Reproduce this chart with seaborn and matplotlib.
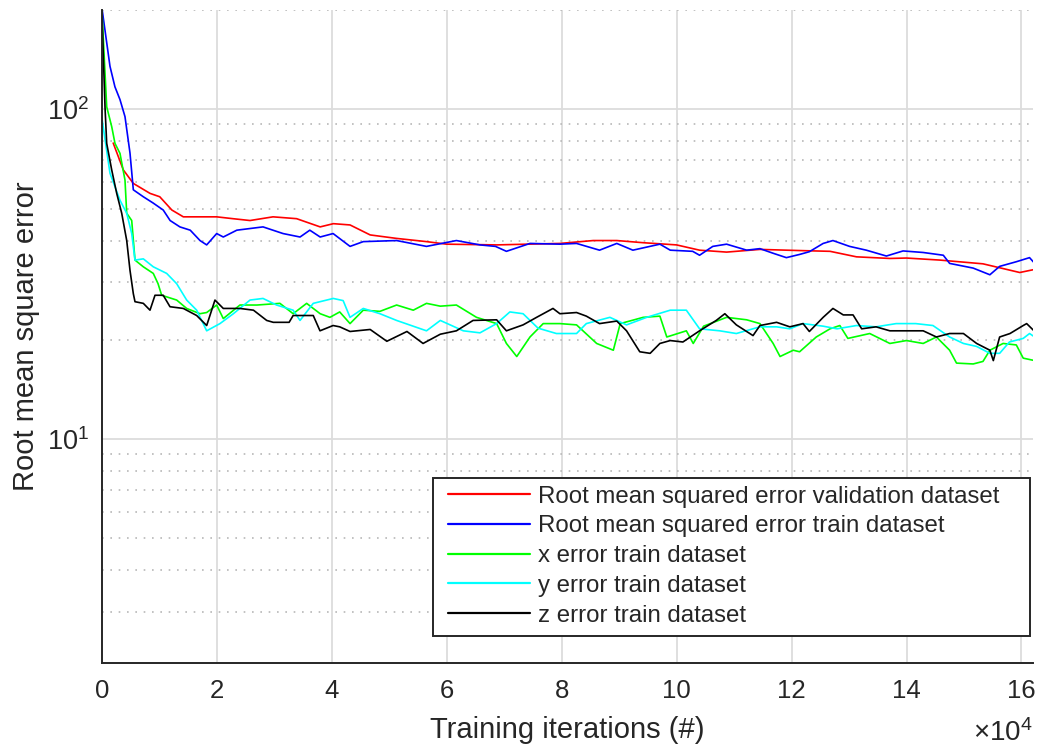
import numpy as np
import pandas as pd
import matplotlib
matplotlib.use("Agg")
import matplotlib.pyplot as plt
import matplotlib.patches as mpatches
import seaborn as sns
from matplotlib.ticker import FixedLocator, FuncFormatter, LogLocator, NullFormatter

# ---------------- data ----------------
series_names = [
    "Root mean squared error validation dataset",
    "Root mean squared error train dataset",
    "x error train dataset",
    "y error train dataset",
    "z error train dataset",
]
series_colors = ["#ff0000", "#0000ff", "#00ff00", "#00ffff", "#000000"]

red_it = [2000, 3760, 5500, 8400, 10100, 12200, 14200, 20000, 22800, 25800, 29800,
          33900, 38000, 40300, 43200, 46700, 51300, 56500, 60000, 68700, 74000, 79700,
          85500, 89600, 94200, 100000, 104000, 108700, 114500, 121400, 126700, 131300,
          137100, 140000, 145800, 153300, 159700, 162300]
red_v = [79, 65.5, 59.6, 55.6, 54.3, 49.5, 47.2, 47.2, 46.6, 46.0, 47.2,
         46.6, 44.0, 45.0, 44.6, 41.6, 40.6, 39.7, 39.0, 38.8, 39.0, 39.2,
         40.0, 40.0, 39.4, 38.8, 37.4, 36.9, 37.6, 37.3, 37.1, 35.7,
         35.3, 35.4, 34.9, 34.0, 32.0, 32.7]

blue_it = [0, 1440, 2300, 3180, 4050, 4920, 5500, 7240, 8930, 10700, 11900, 13600,
           15400, 17100, 18260, 20000, 21150, 23500, 28060, 31550, 34500, 36200, 38000,
           40250, 43200, 45500, 51300, 56500, 61700, 65800, 68500, 70400, 74500, 79700,
           82600, 86600, 89600, 92400, 97100, 98900, 102800, 104000, 106300, 108700,
           112200, 114500, 116800, 119100, 121400, 123100, 125500, 127200, 130100,
           133000, 136500, 139400, 142900, 146400, 147500, 151600, 154500, 156200,
           159100, 161400, 162300]
blue_v = [205, 135, 117, 107, 95, 73.7, 57, 54.3, 52, 49.5, 46, 44,
          43, 40, 38.8, 42, 41, 43, 44, 42, 41, 43, 41,
          42, 38.4, 39.7, 40, 38.4, 40, 38.8, 38.4, 37.1, 39.2, 39.0,
          39.2, 37.4, 39.2, 37.4, 39.0, 37.4, 37.1, 36.1, 38.4, 39.0,
          37.4, 37.8, 36.6, 35.5, 36.3, 37.0, 39.2, 40.0, 38.4,
          37.4, 35.9, 37.2, 36.8, 36.1, 34.1, 33.0, 31.5, 33.4,
          34.5, 35.5, 34.1]

green_it = [0, 870, 1740, 2310, 3180, 4050, 4350, 5220, 5790, 7240, 8970, 9800, 10430,
            13040, 14780, 17100, 18260, 20000, 21150, 24050, 27000, 31000, 33300, 35650,
            38000, 39700, 41400, 43200, 45500, 48400, 51300, 54200, 56500, 58900, 61700,
            65200, 68700, 70400, 72200, 74500, 76800, 79700, 82600, 86100, 89000, 90200,
            94200, 97100, 98300, 101700, 102900, 104700, 108700, 112200, 114500, 116800,
            118000, 120300, 121400, 124300, 126700, 128400, 129800, 133600, 137100,
            140000, 142900, 145200, 147500, 148700, 151600, 153300, 154500, 156800,
            159100, 160300, 162300]
green_v = [205, 101.8, 88.6, 78.8, 73.5, 61, 48.4, 46, 34.9, 33.3, 31.8, 29.6, 27.3,
           26.4, 24.9, 24.0, 24.2, 25.5, 23.2, 25.5, 25.5, 25.8, 24.0, 25.8,
           24.0, 23.4, 24.3, 22.4, 24.6, 24.4, 25.5, 24.6, 25.8, 25.3, 25.5,
           23.4, 22.4, 19.5, 17.8, 20.4, 22.4, 22.4, 22.2, 19.5, 18.6, 22.4,
           23.4, 23.6, 20.4, 21.3, 19.5, 22.0, 23.4, 23.0, 22.4, 19.5,
           17.8, 18.6, 18.4, 20.4, 21.6, 22.1, 20.2, 20.9, 19.5,
           19.9, 19.5, 20.4, 18.6, 17.0, 16.9, 17.2, 18.6, 19.5,
           19.3, 17.6, 17.3]

cyan_it = [0, 1440, 2310, 3180, 4350, 5220, 5790, 7240, 8970, 11300, 13040, 14780,
           16520, 18260, 20570, 22900, 25800, 28060, 30430, 33300, 34500, 36800, 40280,
           42000, 43200, 45500, 48400, 51300, 56500, 58900, 62900, 65800, 68700, 71000,
           73300, 75900, 79100, 82600, 84300, 88400, 91300, 94800, 98900, 101700, 104000,
           107500, 110400, 114500, 117400, 119700, 122000, 125500, 127900, 131300,
           134700, 138200, 141600, 144600, 147500, 149900, 152200, 154500, 156200,
           157900, 160300, 161400, 162300]
cyan_v = [95, 64, 58.2, 53, 48.4, 42, 34.9, 35.2, 33.3, 31.8, 29.6, 26.4,
          24.6, 21.3, 22.4, 24.0, 26.4, 26.7, 25.5, 24.6, 22.9, 25.8, 26.7,
          26.3, 23.4, 24.9, 24.0, 22.9, 21.3, 22.9, 21.3, 21.0, 22.4, 24.3,
          24.0, 21.7, 20.9, 20.9, 22.4, 23.4, 22.2, 23.4, 24.6, 24.6, 21.6,
          21.3, 20.9, 21.9, 21.9, 21.6, 22.4, 22.0, 21.6, 22.1,
          21.9, 22.4, 22.4, 22.1, 20.4, 19.5, 19.1, 18.2, 18.2,
          19.7, 20.2, 20.9, 20.4]

black_it = [0, 580, 870, 1740, 2610, 3480, 4350, 4920, 5500, 5790, 7240, 8400, 9270,
            10700, 11880, 14200, 16520, 18260, 19700, 21150, 24050, 26400, 28700, 29850,
            32600, 33300, 36800, 37970, 40250, 41400, 43200, 46700, 49600, 53100, 55900,
            58900, 61700, 64600, 68700, 70400, 73300, 75650, 78500, 79700, 82600, 84300,
            86600, 89600, 91300, 93600, 95400, 97100, 98900, 101100, 104000, 106900,
            108400, 110400, 113300, 114500, 117400, 119700, 122000, 123100, 125500,
            127200, 129000, 130700, 132200, 134700, 137100, 142900, 145200, 147500,
            149900, 152200, 154500, 155100, 156200, 158000, 160300, 160900, 162300]
black_v = [205, 101, 78.8, 65.5, 55.6, 48.4, 40, 32.5, 27.6, 26.1, 25.8, 24.6, 27.3,
           27.3, 25.2, 24.9, 23.7, 22.1, 26.4, 24.9, 24.9, 24.6, 22.9, 22.6,
           22.6, 23.7, 23.7, 21.3, 22.1, 21.9, 21.2, 21.5, 19.8, 21.2, 19.5,
           20.8, 21.3, 22.9, 23.0, 21.3, 22.2, 23.4, 24.9, 24.0, 24.2, 23.6,
           22.4, 22.8, 21.3, 18.4, 18.2, 19.5, 19.9, 19.7, 21.3, 22.9,
           24.0, 22.2, 20.6, 22.1, 22.6, 21.9, 22.4, 21.2, 23.4,
           24.9, 23.8, 23.8, 21.6, 21.9, 21.3, 21.3, 20.4, 20.9,
           20.9, 19.5, 18.6, 17.3, 20.4, 20.9, 22.1, 22.4, 21.2]

x_ticks = [0, 20000, 40000, 60000, 80000, 100000, 120000, 140000, 160000]
x_tick_labels = ["0", "2", "4", "6", "8", "10", "12", "14", "16"]

# ---------------- build long-form table ----------------
all_it = [red_it, blue_it, green_it, cyan_it, black_it]
all_v = [red_v, blue_v, green_v, cyan_v, black_v]
frames = []
for name, its, vs in zip(series_names, all_it, all_v):
    frames.append(pd.DataFrame({"it": its, "rmse": vs, "series": name}))
df = pd.concat(frames, ignore_index=True)

# ---------------- style ----------------
sns.set_theme(style="white")
plt.rcParams["font.family"] = ["Liberation Sans", "DejaVu Sans"]
plt.rcParams["mathtext.fontset"] = "custom"
plt.rcParams["mathtext.rm"] = "Liberation Sans"
plt.rcParams["mathtext.it"] = "Liberation Sans"
plt.rcParams["mathtext.bf"] = "Liberation Sans"
txt_color = "#262626"

fig = plt.figure(figsize=(10.41, 7.47), dpi=100)
ax = fig.add_axes([0.0977, 0.1129, 0.9923 - 0.0977, 0.9866 - 0.1129])

sns.lineplot(data=df, x="it", y="rmse", hue="series", hue_order=series_names,
             palette=series_colors, estimator=None, linewidth=1.2, ax=ax,
             legend=True)

ax.set_yscale("log")
ax.set_ylim(2.1, 200)
ax.set_xlim(0, 162000)

# grid
ax.set_axisbelow(True)
ax.yaxis.set_minor_locator(LogLocator(base=10, subs=np.arange(2, 10)))
ax.yaxis.set_minor_formatter(NullFormatter())
ax.grid(True, which="major", axis="both", color="#dcdcdc", linewidth=1.3, linestyle="-")
ax.grid(True, which="minor", axis="y", color="#b8b8b8", linewidth=1.2, linestyle=(0, (1, 4)))

ax.xaxis.set_major_locator(FixedLocator(x_ticks))
ax.xaxis.set_major_formatter(FuncFormatter(
    lambda v, p: x_tick_labels[x_ticks.index(int(round(v)))] if int(round(v)) in x_ticks else ""))

for side in ["top", "right"]:
    ax.spines[side].set_visible(False)
for side in ["left", "bottom"]:
    ax.spines[side].set_color(txt_color)
    ax.spines[side].set_linewidth(1.4)

ax.tick_params(axis="both", which="major", direction="in", length=7, width=1.2,
               colors=txt_color, labelcolor=txt_color)
ax.tick_params(axis="x", which="major", pad=12, labelsize=18.5)
ax.tick_params(axis="y", which="major", pad=9, labelsize=19.5)
ax.tick_params(axis="y", which="minor", direction="in", length=5, width=1.2, colors=txt_color)

ax.set_xlabel("Training iterations (#)", fontsize=21, color=txt_color, labelpad=9)
ax.set_ylabel("Root mean square error", fontsize=21, color=txt_color, labelpad=5)

ax.text(1.0, -0.108, r"$\times10^{4}$", transform=ax.transAxes, ha="right", va="center",
        fontsize=20, color=txt_color)

# legend (frame drawn as a rectangle to mimic the wide MATLAB box)
frame = mpatches.Rectangle((0.3557, 0.0409), 0.6411, 0.2421, transform=ax.transAxes,
                           facecolor="white", edgecolor=txt_color, linewidth=1.4,
                           zorder=4.5)
ax.add_patch(frame)
handles, labels = ax.get_legend_handles_labels()
leg = ax.legend(handles, labels, loc="upper left", bbox_to_anchor=(0.372, 0.271),
                fontsize=17.3, frameon=False,
                handlelength=3.4, handletextpad=0.35, labelspacing=0.32,
                borderpad=0.0, borderaxespad=0.0)
leg.set_zorder(5)
for t in leg.get_texts():
    t.set_color(txt_color)
for l in leg.get_lines():
    l.set_linewidth(1.6)

fig.savefig("out.png", dpi=100)
